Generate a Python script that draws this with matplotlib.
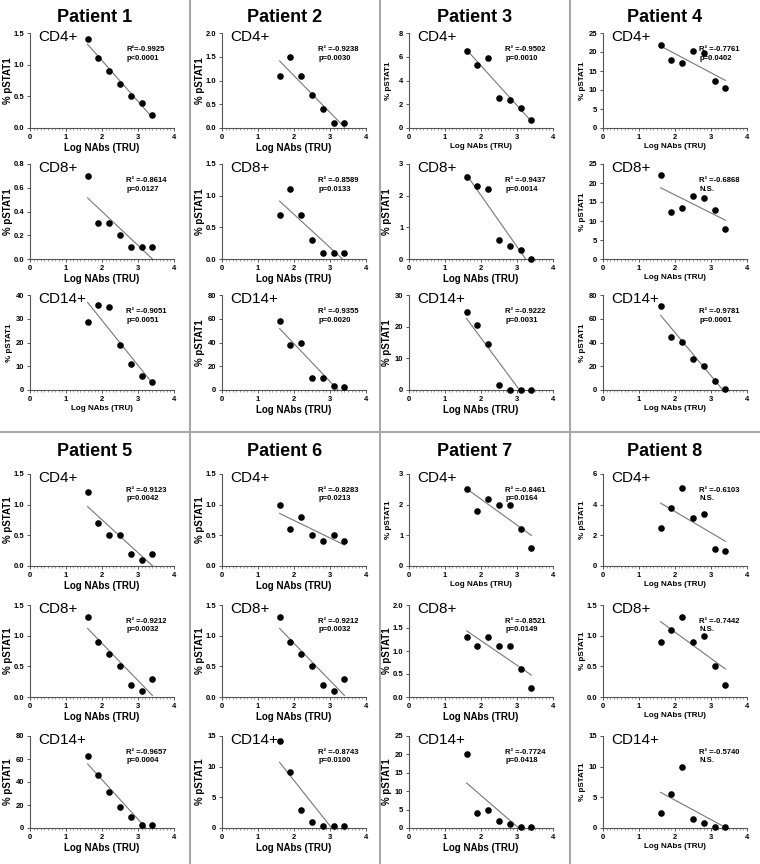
import numpy as np
import matplotlib.pyplot as plt
from matplotlib.lines import Line2D
from matplotlib.ticker import MultipleLocator

plt.rcParams['font.family'] = ['Liberation Sans', 'DejaVu Sans']

# x positions shared by every panel
log_nabs = [1.6, 1.9, 2.2, 2.5, 2.8, 3.1, 3.4]
patients = ['Patient 1', 'Patient 2', 'Patient 3', 'Patient 4',
            'Patient 5', 'Patient 6', 'Patient 7', 'Patient 8']
cells = ['CD4+', 'CD8+', 'CD14+']

# % pSTAT1, one list per patient
cd4 = [[1.4, 1.1, 0.9, 0.7, 0.5, 0.4, 0.2],
       [1.1, 1.5, 1.1, 0.7, 0.4, 0.1, 0.1],
       [6.5, 5.3, 5.9, 2.5, 2.4, 1.7, 0.7],
       [21.8, 17.8, 17.0, 20.2, 19.7, 12.3, 10.5],
       [1.2, 0.7, 0.5, 0.5, 0.2, 0.1, 0.2],
       [1.0, 0.6, 0.8, 0.5, 0.4, 0.5, 0.4],
       [2.5, 1.8, 2.2, 2.0, 2.0, 1.2, 0.6],
       [2.5, 3.8, 5.1, 3.1, 3.4, 1.1, 1.0]]
cd8 = [[0.7, 0.3, 0.3, 0.2, 0.1, 0.1, 0.1],
       [0.7, 1.1, 0.7, 0.3, 0.1, 0.1, 0.1],
       [2.6, 2.3, 2.2, 0.6, 0.4, 0.3, 0.0],
       [22.2, 12.5, 13.3, 16.7, 16.1, 12.8, 7.8],
       [1.3, 0.9, 0.7, 0.5, 0.2, 0.1, 0.3],
       [1.3, 0.9, 0.7, 0.5, 0.2, 0.1, 0.3],
       [1.3, 1.1, 1.3, 1.1, 1.1, 0.6, 0.2],
       [0.9, 1.1, 1.3, 0.9, 1.0, 0.5, 0.2]]
cd14 = [[28.5, 36.0, 35.0, 19.0, 11.0, 6.0, 3.5],
        [58.5, 38.0, 39.5, 10.0, 10.0, 3.0, 2.5],
        [24.5, 20.5, 14.5, 1.7, 0.0, 0.0, 0.0],
        [71.0, 44.5, 40.5, 26.5, 20.5, 7.5, 0.5],
        [63.0, 46.0, 31.0, 18.0, 10.0, 3.0, 2.5],
        [14.2, 9.2, 3.0, 1.0, 0.3, 0.3, 0.3],
        [20.0, 4.0, 5.0, 2.0, 1.0, 0.2, 0.2],
        [2.5, 5.5, 10.0, 1.5, 0.8, 0.2, 0.2]]

cd4_ymax = [1.5, 2, 8, 25, 1.5, 1.5, 3, 6]
cd4_step = [0.5, 0.5, 2, 5, 0.5, 0.5, 1, 2]
cd8_ymax = [0.8, 1.5, 3, 25, 1.5, 1.5, 2, 1.5]
cd8_step = [0.2, 0.5, 1, 5, 0.5, 0.5, 0.5, 0.5]
cd14_ymax = [40, 80, 30, 80, 80, 15, 25, 15]
cd14_step = [10, 20, 10, 20, 20, 5, 5, 5]

cd4_r2 = ['R²=-0.9925', 'R² =-0.9238', 'R² =-0.9502', 'R² =-0.7761',
          'R² =-0.9123', 'R² =-0.8283', 'R² =-0.8461', 'R² =-0.6103']
cd4_p = ['p<0.0001', 'p=0.0030', 'p=0.0010', 'p=0.0402',
         'p=0.0042', 'p=0.0213', 'p=0.0164', 'N.S.']
cd8_r2 = ['R² =-0.8614', 'R² =-0.8589', 'R² =-0.9437', 'R² =-0.6868',
          'R² =-0.9212', 'R² =-0.9212', 'R² =-0.8521', 'R² =-0.7442']
cd8_p = ['p=0.0127', 'p=0.0133', 'p=0.0014', 'N.S.',
         'p=0.0032', 'p=0.0032', 'p=0.0149', 'N.S.']
cd14_r2 = ['R² =-0.9051', 'R² =-0.9355', 'R² =-0.9222', 'R² =-0.9781',
           'R² =-0.9657', 'R² =-0.8743', 'R² =-0.7724', 'R² =-0.5740']
cd14_p = ['p=0.0051', 'p=0.0020', 'p=0.0031', 'p=0.0001',
          'p=0.0004', 'p=0.0100', 'p=0.0418', 'N.S.']

# label size of the axis titles differs panel by panel in the original
big_label = [[1, 1, 0], [1, 1, 1], [0, 1, 1], [0, 0, 0],
             [1, 1, 1], [1, 1, 1], [0, 1, 1], [0, 0, 0]]

values = [cd4, cd8, cd14]
ymaxs = [cd4_ymax, cd8_ymax, cd14_ymax]
steps = [cd4_step, cd8_step, cd14_step]
r2s = [cd4_r2, cd8_r2, cd14_r2]
ps = [cd4_p, cd8_p, cd14_p]

W, H = 760, 864
fig = plt.figure(figsize=(W / 100, H / 100), dpi=100)

col_left = [30, 222, 409, 603]
ax_w = 144
block_tops = [[33, 164, 295], [474, 605, 736]]
block_h = [95, 92]
title_y = [17, 452]

x = np.array(log_nabs)
for pi, name in enumerate(patients):
    col = pi % 4
    blk = pi // 4
    fig.text((col * 190 + 95) / W, 1 - title_y[blk] / H, name,
             ha='center', va='center', fontsize=13, fontweight='bold')
    for ri, cell in enumerate(cells):
        top = block_tops[blk][ri]
        h = block_h[blk]
        ax = fig.add_axes([col_left[col] / W, 1 - (top + h) / H, ax_w / W, h / H])
        y = np.array(values[ri][pi])
        ax.scatter(x, y, s=14, color='black', zorder=3, clip_on=False)

        # least squares fit, cut off where it meets zero
        slope, icpt = np.polyfit(x, y, 1)
        x_end = 3.4
        if slope < 0 and -icpt / slope < 3.4:
            x_end = -icpt / slope
        xs = np.array([1.6, x_end])
        ax.plot(xs, slope * xs + icpt, color='#777777', lw=0.8)

        ymax = ymaxs[ri][pi]
        step = steps[ri][pi]
        ax.set_xlim(0, 4)
        ax.set_ylim(0, ymax)
        ax.xaxis.set_major_locator(MultipleLocator(1))
        ax.xaxis.set_minor_locator(MultipleLocator(0.1))
        ax.yaxis.set_major_locator(MultipleLocator(step))
        if step < 1:
            ax.yaxis.set_major_formatter('{x:.1f}')
        else:
            ax.yaxis.set_major_formatter('{x:.0f}')
        for s in ['top', 'right']:
            ax.spines[s].set_visible(False)
        for s in ['left', 'bottom']:
            ax.spines[s].set_color('#555555')
            ax.spines[s].set_linewidth(0.8)
        ax.tick_params(which='major', length=2.5, width=0.7, colors='#555555',
                       labelsize=5.5, labelcolor='black', pad=1.5)
        ax.tick_params(which='minor', length=1.5, width=0.5, colors='#777777')
        for lab in ax.get_xticklabels() + ax.get_yticklabels():
            lab.set_fontweight('bold')

        fs = 7 if big_label[pi][ri] else 5.8
        ax.set_xlabel('Log NAbs (TRU)', fontsize=fs, fontweight='bold', labelpad=2)
        ax.set_ylabel('% pSTAT1', fontsize=fs, fontweight='bold')
        ax.yaxis.set_label_coords(-0.12, 0.5)

        ax.text(0.06, 1.03, cell, transform=ax.transAxes, ha='left', va='top',
                fontsize=11)
        ax.text(0.67, 0.86, r2s[ri][pi] + '\n' + ps[ri][pi], transform=ax.transAxes,
                ha='left', va='top', fontsize=5.5, fontweight='bold', linespacing=1.3)

# grey separators between the patients
sep = '#a8a8a8'
for xp in [190, 380, 570]:
    fig.add_artist(Line2D([xp / W, xp / W], [0, 1], color=sep, lw=1.5,
                          transform=fig.transFigure))
fig.add_artist(Line2D([0, 1], [1 - 432 / H, 1 - 432 / H], color=sep, lw=1.5,
                      transform=fig.transFigure))

fig.savefig('out.png', dpi=100, facecolor='white')
